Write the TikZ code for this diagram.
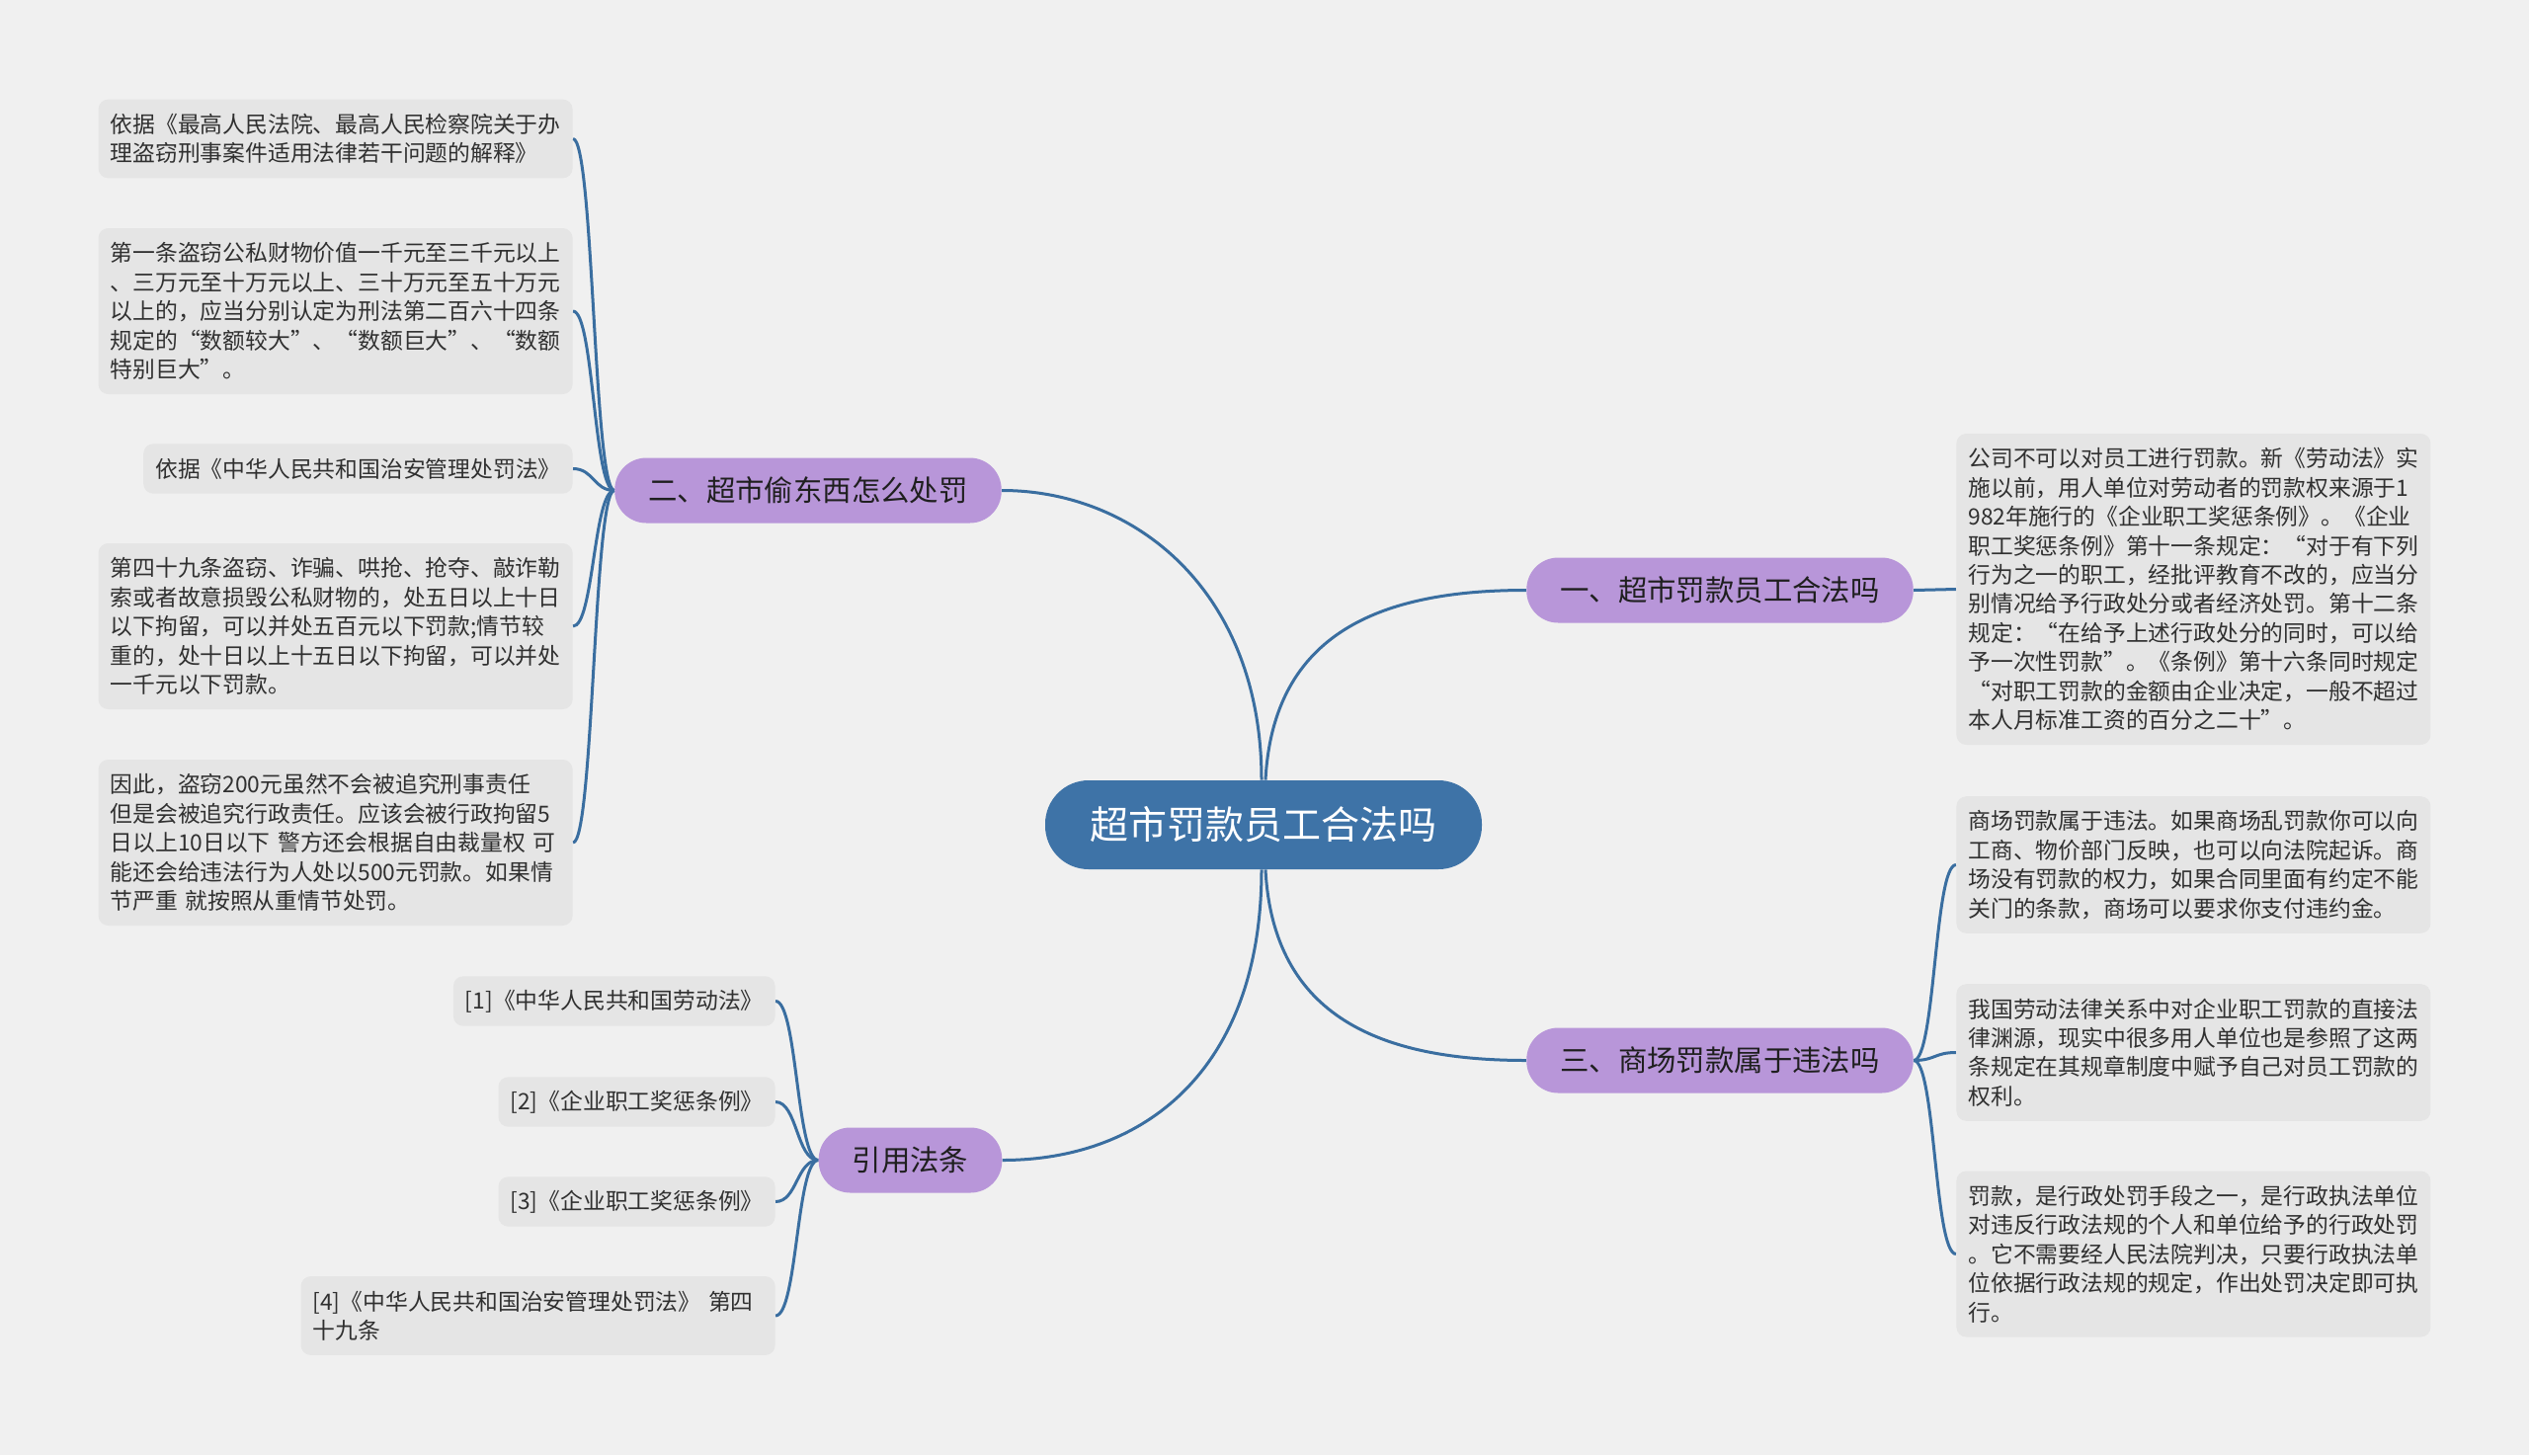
\documentclass[tikz,border=0pt]{standalone}
\usepackage{fontspec}
\setmainfont{Noto Sans CJK SC}
\usetikzlibrary{calc}
\definecolor{bg}{HTML}{F0F0F0}
\definecolor{leaffill}{HTML}{E5E5E5}
\definecolor{linec}{HTML}{3A6EA0}
\definecolor{rootfill}{HTML}{3E73A7}
\definecolor{branchfill}{HTML}{B896D9}
\definecolor{txt}{HTML}{303030}
\pgfdeclarelayer{back}
\pgfdeclarelayer{lines}
\pgfsetlayers{back,lines,main}
\begin{document}
\begin{tikzpicture}[x=0.5pt,y=-0.5pt,
  conn/.style={draw=linec, line width=1.5pt},
  leaf/.style={fill=leaffill, rounded corners=5pt, text=txt,
    font=\fontsize{11.4pt}{14.7pt}\selectfont, inner xsep=6pt, inner ysep=0pt, align=left},
  wideleaf/.style={leaf, text width=228pt},
  branch/.style={fill=branchfill, rounded corners=16pt, minimum height=33pt, inner xsep=17pt,
    text=black!88, font=\fontsize{14.7pt}{17pt}\selectfont},
  root/.style={fill=rootfill, rounded corners=22pt, minimum width=221pt, minimum height=45pt,
    text=white, font=\fontsize{19.5pt}{22pt}\selectfont}
]
\begin{pgfonlayer}{back}
\fill[bg] (0,0) rectangle (2560,1473);
\end{pgfonlayer}
\useasboundingbox (0,0) rectangle (2560,1473);

% root and branches
\node[root] (root) at (1279,835) {超市罚款员工合法吗};
\node[branch] (b2) at (818,496.5) {二、超市偷东西怎么处罚};
\node[branch] (b1) at (1741,597.5) {一、超市罚款员工合法吗};
\node[branch] (b3) at (1741,1073.5) {三、商场罚款属于违法吗};
\node[branch] (bref) at (921.5,1174.5) {引用法条};

% left leaves (branch 2)
\node[wideleaf, minimum height=39.9pt, anchor=east] (l1) at (580,140.5)
 {依据《最高人民法院、最高人民检察院关于办\\理盗窃刑事案件适用法律若干问题的解释》};
\node[wideleaf, minimum height=84pt, anchor=east] (l2) at (580,315)
 {第一条盗窃公私财物价值一千元至三千元以上\\、三万元至十万元以上、三十万元至五十万元\\以上的，应当分别认定为刑法第二百六十四条\\规定的“数额较大”、“数额巨大”、“数额\\特别巨大”。};
\node[leaf, minimum height=25.2pt, anchor=east] (l3) at (580,474.5)
 {依据《中华人民共和国治安管理处罚法》};
\node[wideleaf, minimum height=84pt, anchor=east] (l4) at (580,634)
 {第四十九条盗窃、诈骗、哄抢、抢夺、敲诈勒\\索或者故意损毁公私财物的，处五日以上十日\\以下拘留，可以并处五百元以下罚款;情节较\\重的，处十日以上十五日以下拘留，可以并处\\一千元以下罚款。};
\node[wideleaf, minimum height=84pt, anchor=east] (l5) at (580,853)
 {因此，盗窃200元虽然不会被追究刑事责任\\但是会被追究行政责任。应该会被行政拘留5\\日以上10日以下 警方还会根据自由裁量权 可\\能还会给违法行为人处以500元罚款。如果情\\节严重 就按照从重情节处罚。};

% right leaves
\node[wideleaf, minimum height=157.5pt, anchor=west] (r0) at (1980,596.5)
 {公司不可以对员工进行罚款。新《劳动法》实\\施以前，用人单位对劳动者的罚款权来源于1\\982年施行的《企业职工奖惩条例》。《企业\\职工奖惩条例》第十一条规定：“对于有下列\\行为之一的职工，经批评教育不改的，应当分\\别情况给予行政处分或者经济处罚。第十二条\\规定：“在给予上述行政处分的同时，可以给\\予一次性罚款”。《条例》第十六条同时规定\\“对职工罚款的金额由企业决定，一般不超过\\本人月标准工资的百分之二十”。};
\node[wideleaf, minimum height=69.3pt, anchor=west] (r1) at (1980,875.5)
 {商场罚款属于违法。如果商场乱罚款你可以向\\工商、物价部门反映，也可以向法院起诉。商\\场没有罚款的权力，如果合同里面有约定不能\\关门的条款，商场可以要求你支付违约金。};
\node[wideleaf, minimum height=69.3pt, anchor=west] (r2) at (1980,1065.5)
 {我国劳动法律关系中对企业职工罚款的直接法\\律渊源，现实中很多用人单位也是参照了这两\\条规定在其规章制度中赋予自己对员工罚款的\\权利。};
\node[wideleaf, minimum height=84pt, anchor=west] (r3) at (1980,1269.5)
 {罚款，是行政处罚手段之一，是行政执法单位\\对违反行政法规的个人和单位给予的行政处罚\\。它不需要经人民法院判决，只要行政执法单\\位依据行政法规的规定，作出处罚决定即可执\\行。};

% citation leaves
\node[leaf, minimum height=25.2pt, anchor=east] (c1) at (785,1013.5) {[1]《中华人民共和国劳动法》};
\node[leaf, minimum height=25.2pt, anchor=east] (c2) at (785,1115.5) {[2]《企业职工奖惩条例》};
\node[leaf, minimum height=25.2pt, anchor=east] (c3) at (785,1216.5) {[3]《企业职工奖惩条例》};
\node[wideleaf, minimum height=39.9pt, anchor=east] (c4) at (785,1332)
 {[4]《中华人民共和国治安管理处罚法》 第四\\十九条};

\begin{pgfonlayer}{lines}
% root to branches
\draw[conn] ([xshift=-1pt]root.north) .. controls ($([xshift=-1pt]root.north)+(0,-190)$) and ($(b2.east)+(136,0)$) .. (b2.east);
\draw[conn] ([xshift=1pt]root.north) .. controls ($([xshift=1pt]root.north)+(8,-150)$) and ($(b1.west)+(-146,0)$) .. (b1.west);
\draw[conn] ([xshift=1pt]root.south) .. controls ($([xshift=1pt]root.south)+(8,150)$) and ($(b3.west)+(-146,0)$) .. (b3.west);
\draw[conn] ([xshift=-1pt]root.south) .. controls ($([xshift=-1pt]root.south)+(0,200)$) and ($(bref.east)+(146,0)$) .. (bref.east);
% branch 2
\foreach \n in {l1,l2,l3,l4,l5}
  \draw[conn] (b2.west) .. controls ($(b2.west)+(-21,0)$) and ($(\n.east)+(21,0)$) .. (\n.east);
% branch 1
\draw[conn] (b1.east) .. controls ($(b1.east)+(22,0)$) and ($(r0.west)+(-22,0)$) .. (r0.west);
% branch 3
\foreach \n in {r1,r2,r3}
  \draw[conn] (b3.east) .. controls ($(b3.east)+(22,0)$) and ($(\n.west)+(-22,0)$) .. (\n.west);
% citations
\foreach \n in {c1,c2,c3,c4}
  \draw[conn] (bref.west) .. controls ($(bref.west)+(-22,0)$) and ($(\n.east)+(22,0)$) .. (\n.east);
\end{pgfonlayer}
\end{tikzpicture}
\end{document}
